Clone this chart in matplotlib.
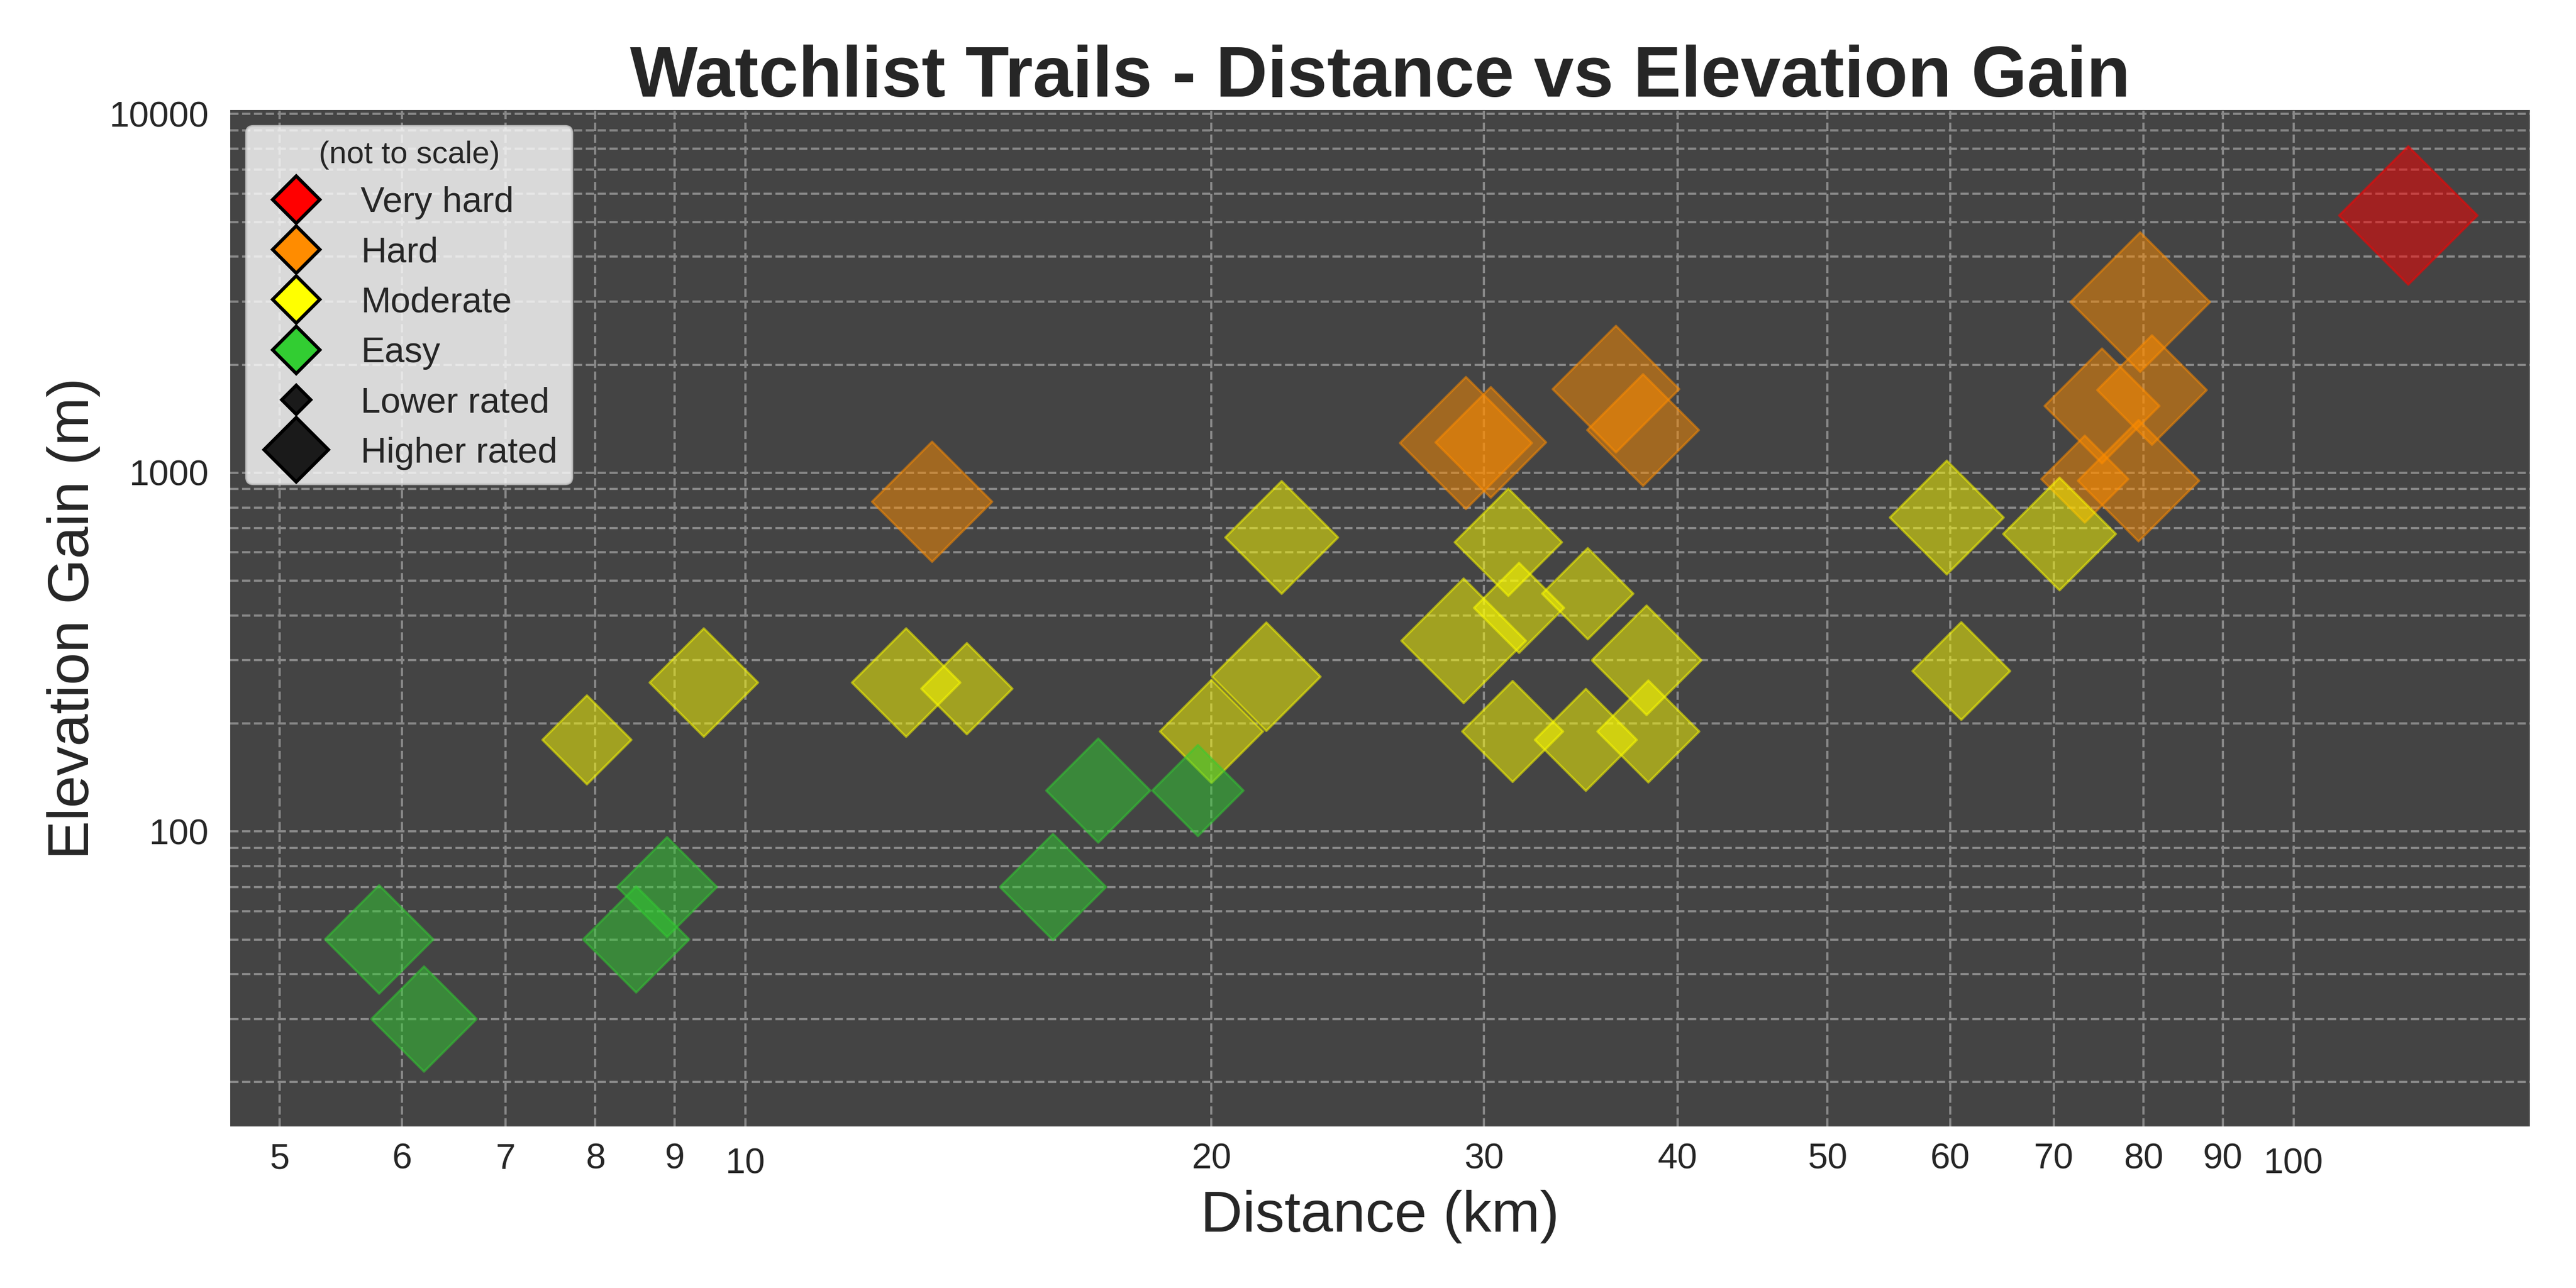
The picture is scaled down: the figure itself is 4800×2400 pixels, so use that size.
import matplotlib
matplotlib.use("Agg")
import matplotlib.pyplot as plt
from matplotlib.lines import Line2D
from matplotlib.ticker import LogLocator, FuncFormatter, NullFormatter

# ---------------- data ----------------
difficulties = ["Very hard", "Hard", "Moderate", "Easy"]
difficulty_colors = ["#FF0000", "#FF8C00", "#FFFF00", "#32CD32"]

very_hard_km = [118.5]
very_hard_gain = [5220]
very_hard_rating = [4.79]

hard_km = [13.2, 29.2, 30.3, 36.5, 38.0, 79.6, 75.2, 81.0, 73.3, 79.4]
hard_gain = [830, 1210, 1215, 1710, 1315, 2990, 1535, 1700, 960, 950]
hard_rating = [3.61, 4.36, 3.06, 4.01, 3.12, 4.87, 3.30, 3.00, 1.89, 3.68]

moderate_km = [7.9, 9.4, 12.7, 13.9, 20.0, 21.7, 22.2, 29.1, 31.1, 31.3,
               31.6, 35.0, 34.9, 38.2, 38.3, 59.7, 61.0, 70.6]
moderate_gain = [180, 260, 260, 250, 190, 270, 660, 340, 640, 190,
                 420, 460, 180, 300, 190, 750, 280, 675]
moderate_rating = [1.98, 2.94, 2.94, 2.08, 2.66, 2.94, 3.18, 3.88, 2.88, 2.55,
                   2.03, 2.08, 2.60, 3.00, 2.60, 3.24, 2.39, 3.18]

easy_km = [5.8, 6.2, 8.5, 8.9, 15.8, 16.9, 19.6]
easy_gain = [50, 30, 50, 70, 70, 130, 130]
easy_rating = [2.94, 2.77, 2.82, 2.49, 2.82, 2.71, 2.08]

series_km = [very_hard_km, hard_km, moderate_km, easy_km]
series_gain = [very_hard_gain, hard_gain, moderate_gain, easy_gain]
series_rating = [very_hard_rating, hard_rating, moderate_rating, easy_rating]

title = "Watchlist Trails - Distance vs Elevation Gain"
x_label = "Distance (km)"
y_label = "Elevation Gain (m)"
legend_title = "(not to scale)"
size_labels = ["Lower rated", "Higher rated"]

# ---------------- style ----------------
plt.rcParams["font.family"] = ["Liberation Sans", "DejaVu Sans"]
plt.rcParams["text.color"] = "#262626"
plt.rcParams["axes.labelcolor"] = "#262626"
plt.rcParams["xtick.color"] = "#262626"
plt.rcParams["ytick.color"] = "#262626"
plt.rcParams["xtick.major.size"] = 6
plt.rcParams["xtick.minor.size"] = 4
plt.rcParams["ytick.major.size"] = 6
plt.rcParams["ytick.minor.size"] = 4

fig = plt.figure(figsize=(16, 8), dpi=300)
ax = fig.add_axes([0.0894, 0.1254, 0.9821 - 0.0894, 0.9146 - 0.1254])
ax.set_facecolor("#444444")
for sp in ax.spines.values():
    sp.set_visible(False)

ax.set_xscale("log")
ax.set_yscale("log")

for km, gain, rating, color in zip(series_km, series_gain, series_rating, difficulty_colors):
    sizes = [400 * r for r in rating]
    ax.scatter(km, gain, s=sizes, marker="D", color=color, alpha=0.5,
               edgecolors=color, linewidths=1.0, zorder=3)

ax.set_xlim(4.648, 142.1)
ax.set_ylim(15.05, 10261)

ax.xaxis.set_major_locator(LogLocator(base=10))
ax.xaxis.set_minor_locator(LogLocator(base=10, subs=[2, 3, 4, 5, 6, 7, 8, 9]))
ax.xaxis.set_major_formatter(FuncFormatter(lambda v, p: f"{int(round(v))}"))
ax.xaxis.set_minor_formatter(FuncFormatter(lambda v, p: f"{int(round(v))}"))
ax.yaxis.set_major_locator(LogLocator(base=10))
ax.yaxis.set_minor_locator(LogLocator(base=10, subs=[2, 3, 4, 5, 6, 7, 8, 9]))
ax.yaxis.set_major_formatter(FuncFormatter(lambda v, p: f"{int(round(v))}"))
ax.yaxis.set_minor_formatter(NullFormatter())

ax.tick_params(axis="both", which="both", bottom=False, left=False,
               labelsize=16)
ax.grid(True, which="both", linestyle="--", color="#888888", linewidth=1.0, zorder=0)
ax.set_axisbelow(True)

ax.set_title(title, fontsize=32, fontweight="bold", color="#262626")
ax.set_xlabel(x_label, fontsize=26)
ax.set_ylabel(y_label, fontsize=26)

handles = []
for lab, c in zip(difficulties, difficulty_colors):
    handles.append(Line2D([], [], marker="D", linestyle="", markerfacecolor=c,
                          markeredgecolor="black", markersize=15, markeredgewidth=1.5,
                          label=lab))
handles.append(Line2D([], [], marker="D", linestyle="", markerfacecolor="#1a1a1a",
                      markeredgecolor="black", markersize=9, markeredgewidth=1.5,
                      label=size_labels[0]))
handles.append(Line2D([], [], marker="D", linestyle="", markerfacecolor="#1a1a1a",
                      markeredgecolor="black", markersize=20.5, markeredgewidth=1.5,
                      label=size_labels[1]))
leg = ax.legend(handles=handles, loc="upper left", fontsize=16, title=legend_title,
                title_fontsize=14, facecolor="white", framealpha=0.8,
                edgecolor="0.8", borderaxespad=0.45, labelspacing=0.47)
leg.set_zorder(5)

fig.savefig("out.png", dpi=300)
